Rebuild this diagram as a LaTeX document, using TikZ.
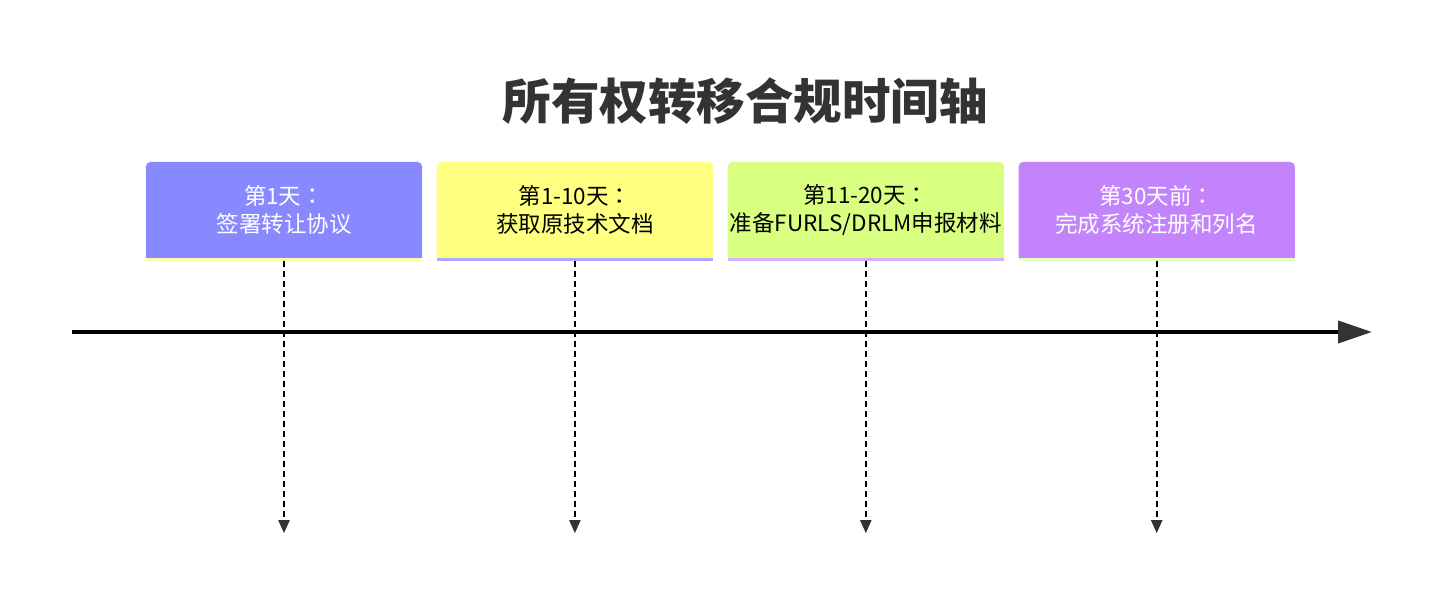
\documentclass[tikz,border=0pt]{standalone}
\usepackage{fontspec}
\setmainfont{Noto Sans CJK SC}
\newfontfamily\colonfont{Noto Sans CJK TC}
\newcommand{\fwcolon}{{\colonfont ：}}
\usetikzlibrary{positioning,arrows.meta,backgrounds}

\definecolor{titlegray}{HTML}{333333}
\definecolor{phaseblue}{HTML}{8888FF}
\definecolor{phaseyellow}{HTML}{FFFF80}
\definecolor{phaselime}{HTML}{D9FF80}
\definecolor{phasepurple}{HTML}{C384FB}
\definecolor{stripyellow}{HTML}{FFFFAA}
\definecolor{stripblue}{HTML}{AAAAFF}
\definecolor{strippurple}{HTML}{D4B0FF}
\definecolor{stripgreen}{HTML}{E2FFC8}

\begin{document}
\begin{tikzpicture}[x=1pt, y=-1pt,
	phase/.style={minimum width=276pt, minimum height=96pt, inner sep=0pt, align=center, font=\fontsize{22.5}{27.5}\selectfont},
	axis/.style={line width=4pt, black, -{Triangle[length=34pt,width=22pt,fill=titlegray,color=titlegray]}},
	drop/.style={line width=2pt, black, dash pattern=on 6pt off 4pt, -{Triangle[length=13pt,width=11pt,fill=titlegray,color=titlegray]}},
	node distance=14.5pt]

\useasboundingbox (0,0) rectangle (1440,605);

\node[name=title, text=titlegray, font=\fontsize{48.5}{48.5}\selectfont\bfseries] at (745,101) {所有权转移合规时间轴};

% phase boxes
\node[phase, text=white] (p1) at (284,210) {第1天\fwcolon\\签署转让协议};
\node[phase, right=of p1] (p2) {第1-10天\fwcolon\\获取原技术文档};
\node[phase, right=of p2] (p3) {第11-20天\fwcolon\\准备FURLS/DRLM申报材料};
\node[phase, text=white, right=of p3] (p4) {第30天前\fwcolon\\完成系统注册和列名};

\begin{scope}[on background layer]
\foreach \n/\c/\s in {p1/phaseblue/stripyellow, p2/phaseyellow/stripblue, p3/phaselime/strippurple, p4/phasepurple/stripgreen}{
	\fill[\c, rounded corners=5pt] (\n.south west) -- (\n.north west) -- (\n.north east) [sharp corners] -- (\n.south east) -- cycle;
	\fill[\s] (\n.south west) rectangle ([yshift=-3pt]\n.south east);
}
\end{scope}

% time axis
\coordinate (tl) at (72,332);
\coordinate (tr) at (1372,332);
\draw[axis] (tl) -- (tr);

% dashed drops
\foreach \n in {1,...,4}{
	\path (p\n.south) ++(0,275) coordinate (e\n);
	\draw[drop] ([yshift=-3pt]p\n.south) -- (e\n);
}
\end{tikzpicture}
\end{document}
